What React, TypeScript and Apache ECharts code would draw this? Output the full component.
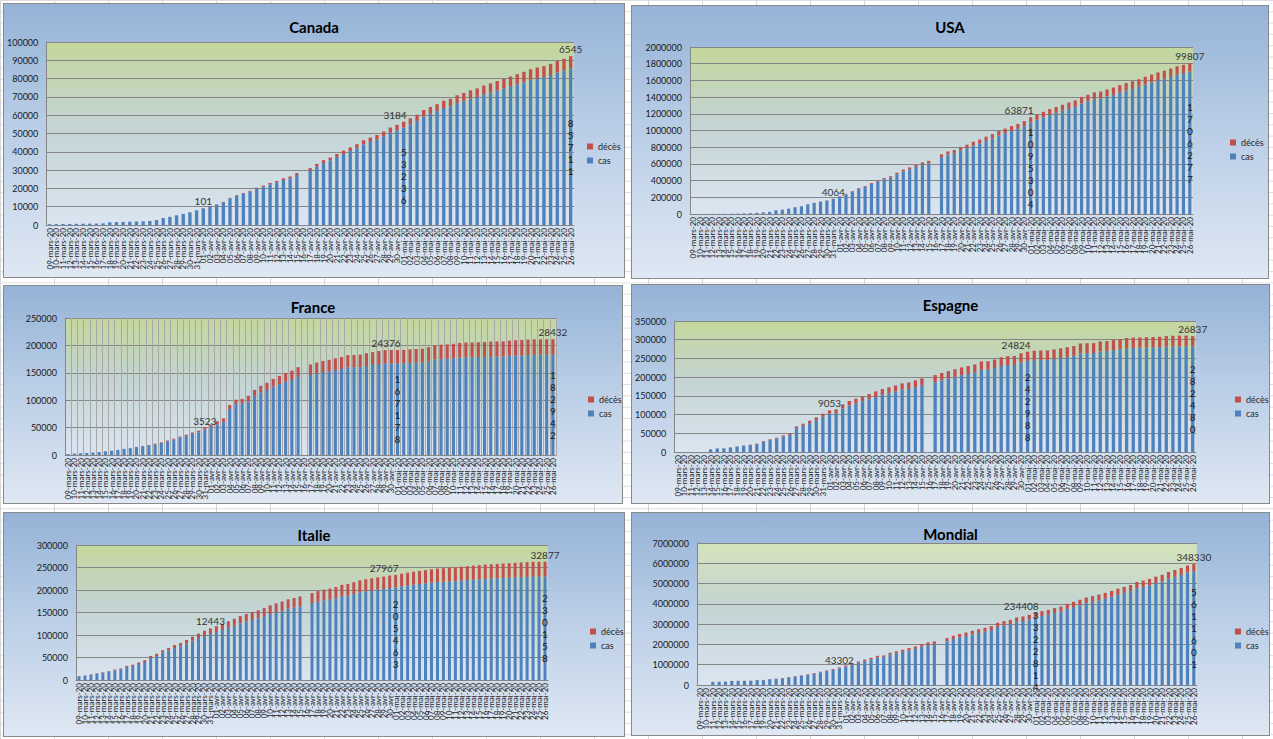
import React, { useEffect, useRef } from "react";
import * as echarts from "echarts";

// dates (one per bar)
const dates = [
  "09-mars-20", "10-mars-20", "11-mars-20", "12-mars-20", "13-mars-20", "14-mars-20", "15-mars-20", "16-mars-20",
  "17-mars-20", "18-mars-20", "19-mars-20", "20-mars-20", "21-mars-20", "22-mars-20", "23-mars-20", "24-mars-20",
  "25-mars-20", "26-mars-20", "27-mars-20", "28-mars-20", "29-mars-20", "30-mars-20", "31-mars-20",
  "01-avr-20", "02-avr-20", "03-avr-20", "04-avr-20", "05-avr-20", "06-avr-20", "07-avr-20", "08-avr-20",
  "09-avr-20", "10-avr-20", "11-avr-20", "12-avr-20", "13-avr-20", "14-avr-20", "15-avr-20", "16-avr-20",
  "17-avr-20", "18-avr-20", "19-avr-20", "20-avr-20", "21-avr-20", "22-avr-20", "23-avr-20", "24-avr-20",
  "25-avr-20", "26-avr-20", "27-avr-20", "28-avr-20", "29-avr-20", "30-avr-20",
  "01-mai-20", "02-mai-20", "03-mai-20", "04-mai-20", "05-mai-20", "06-mai-20", "07-mai-20", "08-mai-20",
  "09-mai-20", "10-mai-20", "11-mai-20", "12-mai-20", "13-mai-20", "14-mai-20", "15-mai-20", "16-mai-20",
  "17-mai-20", "18-mai-20", "19-mai-20", "20-mai-20", "21-mai-20", "22-mai-20", "23-mai-20", "24-mai-20",
  "25-mai-20", "26-mai-20",
];

const canadaCas = [
  450, 500, 550, 600, 650, 700, 750, 800, 900, 1500,
  1600, 1700, 1800, 1900, 2000, 2200, 2700, 3800, 4400, 5300,
  6000, 6900, 8000, 9100, 10200, 11100, 12400, 14500, 16000, 17100,
  18200, 19800, 20900, 22200, 23300, 24600, 25500, 27300, null, 29800,
  32000, 33900, 35300, 37100, 38800, 40400, 42000, 44000, 45300, 46600,
  48400, 50400, 51700, 53236, 55000, 56800, 59300, 60800, 62200, 63900,
  64800, 66600, 67700, 69000, 69900, 71300, 72400, 73500, 74600, 75700,
  76800, 78000, 79300, 80100, 80800, 81900, 83300, 84400, 85711,
];
const canadaDeces = [
  1, 1, 1, 1, 1, 1, 4, 5, 8, 9,
  12, 12, 19, 21, 24, 26, 30, 38, 54, 61,
  64, 80, 89, 101, 150, 200, 260, 330, 380, 430,
  500, 560, 650, 730, 780, 900, 1000, 1100, null, 1300,
  1400, 1500, 1600, 1700, 1900, 2000, 2150, 2300, 2450, 2600,
  2700, 2850, 3000, 3184, 3300, 3400, 3550, 3700, 3850, 4000,
  4150, 4300, 4450, 4600, 4750, 4900, 5050, 5200, 5300, 5450,
  5600, 5700, 5800, 5950, 6050, 6150, 6300, 6450, 6545,
];

const usaCas = [
  600, 900, 1300, 1700, 2300, 2900, 3500, 4600, 6400, 9400,
  14000, 19000, 26000, 44000, 52000, 64000, 80000, 92000, 116000, 132000,
  148000, 160000, 180000, 208000, 236000, 268000, 300000, 324000, 360000, 388000,
  416000, 436000, 476000, 512000, 536000, 564000, 592000, 608000, null, 680000,
  712000, 728000, 760000, 788000, 820000, 844000, 876000, 904000, 940000, 968000,
  996000, 1020000, 1052000, 1095304, 1128000, 1156000, 1188000, 1212000, 1236000, 1260000,
  1284000, 1324000, 1348000, 1376000, 1384000, 1408000, 1428000, 1456000, 1480000, 1500000,
  1524000, 1552000, 1576000, 1600000, 1620000, 1644000, 1672000, 1688000, 1706277,
];
const usaDeces = [
  22, 28, 36, 40, 47, 57, 69, 85, 108, 150,
  200, 244, 307, 417, 557, 706, 942, 1209, 1581, 2026,
  2467, 3170, 4064, 5100, 6100, 7400, 8500, 9600, 10900, 12800,
  14700, 16500, 18600, 20500, 22100, 23600, 25800, 28300, null, 34600,
  37100, 39000, 40600, 42400, 45300, 47600, 49900, 51900, 53800, 54900,
  56300, 58400, 60900, 63871, 65700, 67400, 68900, 70100, 72300, 74800,
  76900, 78800, 80000, 80800, 82400, 84100, 85900, 87500, 88800, 89600,
  90400, 91900, 93400, 94700, 96000, 97100, 97700, 98200, 99807,
];

const franceCas = [
  1800, 2600, 3200, 3700, 4400, 5400, 6600, 7700, 9100, 10900,
  12500, 14400, 16000, 17700, 19800, 22300, 25200, 28100, 31800, 34800,
  38500, 41500, 46400, 51300, 56200, 60500, 83700, 92900, 93500, 97800,
  108000, 114000, 118500, 124600, 129500, 133800, 136900, 142400, null, 146000,
  149000, 151500, 152800, 155200, 157000, 160000, 160000, 160300, 162500, 164400,
  166200, 167400, 167300, 167178, 167300, 168000, 168300, 168500, 171000, 174200,
  175000, 175500, 176500, 178000, 178500, 178600, 178800, 179000, 179500, 179600,
  179700, 181000, 181500, 182000, 182500, 182700, 182900, 183000, 182942,
];
const franceDeces = [
  25, 33, 48, 61, 79, 91, 127, 148, 175, 244,
  372, 450, 562, 674, 860, 1100, 1331, 1696, 1995, 2314,
  2606, 3024, 3523, 4000, 5400, 6500, 7500, 8000, 8900, 10300,
  10900, 12200, 13200, 14400, 14900, 15700, 17100, 17900, null, 19300,
  19700, 20200, 20800, 21300, 21800, 22200, 22600, 22800, 23200, 23300,
  23600, 24100, 24300, 24376, 24600, 24900, 25200, 25500, 25800, 26000,
  26200, 26300, 26400, 26600, 26700, 26900, 27000, 27100, 27400, 27500,
  27500, 27600, 27900, 28000, 28100, 28200, 28300, 28300, 28432,
];

const espagneCas = [
  0, 0, 0, 0, 0, 6900, 9500, 9500, 12000, 14500,
  17000, 18600, 21000, 27700, 31600, 35600, 41100, 45700, 63600, 70000,
  77200, 85300, 94200, 102200, 104000, 116400, 124500, 130100, 135500, 141200,
  147400, 153000, 156900, 161600, 166400, 168500, 173200, 178100, null, 186300,
  191500, 196000, 200600, 205200, 208300, 212300, 219800, 219900, 224100, 229800,
  232500, 232700, 239200, 242988, 245500, 245800, 246000, 248400, 251000, 254100,
  256900, 263700, 264000, 264200, 268800, 269500, 272100, 274300, 277300, 278200,
  278600, 279100, 279500, 280100, 281900, 282000, 282300, 282400, 282480,
];
const espagneDeces = [
  0, 0, 0, 0, 0, 200, 290, 340, 530, 600,
  770, 1000, 1300, 1700, 2200, 2700, 3400, 4100, 4900, 5700,
  6500, 7300, 8200, 9053, 10000, 10900, 11700, 12400, 13100, 13800,
  14600, 15200, 15800, 16400, 17000, 17500, 18100, 18600, null, 19300,
  19500, 20000, 20400, 20800, 21300, 21700, 22200, 22500, 22900, 23200,
  23500, 23800, 24300, 24824, 25100, 25300, 25400, 25600, 25800, 25900,
  26100, 26300, 26500, 26600, 26700, 26700, 26900, 27100, 27300, 27500,
  27600, 27700, 27700, 27800, 27900, 28600, 28700, 28700, 26837,
];

const italieCas = [
  8200, 9700, 11900, 14100, 16300, 18600, 21500, 23800, 29000, 31000,
  35600, 40000, 48900, 53300, 60700, 65200, 71100, 74800, 80700, 87400,
  93300, 98500, 102200, 106700, 111000, 116000, 120700, 126000, 129600, 133300,
  137000, 141500, 146700, 150400, 154000, 158500, 160700, 163700, null, 170400,
  174000, 177000, 178500, 181500, 186000, 187400, 191000, 194800, 197000, 198500,
  200700, 202200, 204400, 205463, 208000, 209600, 211800, 213300, 214800, 216300,
  217800, 218500, 219200, 219800, 221200, 222100, 223100, 223900, 224800, 225400,
  225900, 226700, 227400, 228000, 228700, 229300, 229900, 230000, 230158,
];
const italieDeces = [
  400, 500, 650, 850, 1000, 1300, 1800, 2200, 2500, 3000,
  3400, 4000, 4500, 5000, 5500, 6000, 6700, 7500, 8300, 9000,
  9800, 11000, 12443, 13000, 13900, 14600, 15300, 16000, 17000, 17600,
  18000, 18500, 19300, 19800, 20400, 20800, 21500, 22000, null, 22800,
  23500, 24000, 24700, 25100, 25500, 25900, 26300, 26600, 26900, 27300,
  27400, 27600, 27800, 27967, 28200, 28700, 28900, 29100, 29300, 29700,
  29900, 30000, 30200, 30500, 30700, 30900, 31100, 31400, 31600, 31800,
  31900, 32000, 32200, 32300, 32500, 32600, 32700, 32800, 32877,
];

const mondialCas = [
  0, 0, 150000, 156000, 162000, 198000, 202000, 205000, 208000, 238000,
  240000, 284000, 298000, 330000, 377000, 424000, 454000, 501000, 563000, 625000,
  686000, 748000, 826000, 919000, 996000, 1100000, 1194000, 1270000, 1364000, 1377000,
  1500000, 1564000, 1637000, 1710000, 1782000, 1894000, 1966000, 2009000, null, 2157000,
  2270000, 2354000, 2419000, 2491000, 2565000, 2629000, 2703000, 2867000, 2942000, 2997000,
  3112000, 3156000, 3231000, 3322814, 3401000, 3456000, 3542000, 3618000, 3744000, 3839000,
  3933000, 4037000, 4102000, 4177000, 4253000, 4349000, 4455000, 4540000, 4626000, 4770000,
  4834000, 4910000, 5016000, 5102000, 5237000, 5332000, 5428000, 5545000, 5611601,
];
const mondialDeces = [
  0, 0, 4600, 5000, 5400, 5800, 6400, 7000, 7900, 8800,
  9900, 11300, 13000, 14700, 16500, 19000, 21300, 24000, 27000, 30800,
  34800, 38700, 43302, 48000, 54000, 60000, 66000, 70000, 76000, 83000,
  90000, 96000, 103000, 110000, 118000, 126000, 134000, 141000, null, 153000,
  160000, 166000, 171000, 179000, 185000, 191000, 197000, 203000, 208000, 213000,
  218000, 224000, 229000, 234408, 239000, 244000, 248000, 252000, 256000, 261000,
  267000, 273000, 278000, 283000, 287000, 291000, 295000, 300000, 304000, 310000,
  316000, 320000, 324000, 328000, 333000, 338000, 342000, 345000, 348330,
];

const seriesNames = ["cas", "décès"];

type Panel = {
  title: string;
  cas: (number | null)[];
  deces: (number | null)[];
  yMax: number;
  yStep: number;
  firstLabel: number;
  box: [number, number, number, number];
  grid: [number, number, number, number];
  titleTop: number;
  legend: [number, number];
  vLines?: boolean;
  plotTop?: string;
};

const panels: Panel[] = [
  { title: "Canada", cas: canadaCas, deces: canadaDeces, yMax: 100000, yStep: 10000, firstLabel: 23,
    box: [3, 3, 622, 275], grid: [40, 38, 530, 183], titleTop: 10, legend: [583, 138] },
  { title: "USA", cas: usaCas, deces: usaDeces, yMax: 2000000, yStep: 200000, firstLabel: 22,
    box: [631, 5, 638, 274], grid: [58, 41, 503, 167], titleTop: 8, legend: [598, 132] },
  { title: "France", cas: franceCas, deces: franceDeces, yMax: 250000, yStep: 50000, firstLabel: 22,
    box: [3, 285, 620, 219], grid: [61, 32, 491, 137], titleTop: 8, legend: [584, 109], vLines: true },
  { title: "Espagne", cas: espagneCas, deces: espagneDeces, yMax: 350000, yStep: 50000, firstLabel: 23,
    box: [631, 284, 639, 220], grid: [42, 36, 522, 131], titleTop: 7, legend: [603, 110] },
  { title: "Italie", cas: italieCas, deces: italieDeces, yMax: 300000, yStep: 50000, firstLabel: 22,
    box: [3, 512, 622, 225], grid: [72, 32, 472, 135], titleTop: 9, legend: [586, 114] },
  { title: "Mondial", cas: mondialCas, deces: mondialDeces, yMax: 7000000, yStep: 1000000, firstLabel: 22,
    box: [631, 512, 639, 224], grid: [65, 30, 500, 142], titleTop: 8, legend: [603, 114], plotTop: "#d5e3bb" },
];

const FONT = "Lato, 'Liberation Sans', sans-serif";

const plotFill = (top: string) => ({
  type: "linear", x: 0, y: 0, x2: 0, y2: 1,
  colorStops: [
    { offset: 0, color: top },
    { offset: 0.45, color: "#c3d4d3" },
    { offset: 1, color: "#dbe5f1" },
  ],
});

const buildOption = (p: Panel) => {
  const last = dates.length - 1;
  const casData = p.cas.map((v, i) =>
    i === 53 || i === last ? { value: v, label: { show: true } } : v
  );
  const decesData = p.deces.map((v, i) => {
    if (i === 53) return { value: v, label: { show: true, align: "right", offset: [3, 0] } };
    if (i === p.firstLabel || i === last) return { value: v, label: { show: true } };
    return v;
  });
  return {
    animation: false,
    textStyle: { fontFamily: FONT },
    title: {
      text: p.title, left: "center", top: p.titleTop,
      textStyle: { fontSize: 15, fontWeight: "bold", color: "#000", fontFamily: FONT },
    },
    legend: {
      orient: "vertical", left: p.legend[0], top: p.legend[1], padding: 0,
      itemWidth: 6, itemHeight: 6, itemGap: 5, icon: "rect",
      data: ["décès", "cas"],
      textStyle: { fontSize: 9, color: "#262626", fontFamily: FONT },
    },
    grid: {
      left: p.grid[0], top: p.grid[1], width: p.grid[2], height: p.grid[3],
      show: true, borderWidth: 0, backgroundColor: plotFill(p.plotTop || "#c4d79b"),
    },
    xAxis: {
      type: "category", data: dates,
      axisTick: { show: false },
      axisLine: { lineStyle: { color: "#868686" } },
      axisLabel: { interval: 0, rotate: 90, fontSize: 8, color: "#222", margin: 3, fontFamily: FONT },
      splitLine: { show: !!p.vLines, interval: 0, lineStyle: { color: "#a8a8a8", width: 1 } },
    },
    yAxis: {
      type: "value", min: 0, max: p.yMax, interval: p.yStep,
      axisLine: { show: true, lineStyle: { color: "#868686" } },
      axisTick: { show: false },
      axisLabel: { fontSize: 9, color: "#1a1a1a", margin: 8, fontFamily: FONT, formatter: (v: number) => String(v) },
      splitLine: { lineStyle: { color: "#868686", width: 1 } },
    },
    series: [
      {
        name: seriesNames[0], type: "bar", stack: "total", barWidth: "50%",
        itemStyle: { color: "#4f81bd" },
        label: {
          show: false, position: "inside", fontSize: 10, lineHeight: 12, color: "#1a1a1a",
          textBorderWidth: 0, fontFamily: FONT,
          formatter: (d: any) => String(d.value).split("").join("\n"),
        },
        data: casData,
      },
      {
        name: seriesNames[1], type: "bar", stack: "total", barWidth: "50%",
        itemStyle: { color: "#c0504d" },
        label: {
          show: false, position: "top", distance: 2, fontSize: 10, color: "#333",
          fontFamily: FONT, formatter: "{c}",
        },
        data: decesData,
      },
    ],
  };
};

const ChartBox: React.FC<{ panel: Panel }> = ({ panel }) => {
  const chartRef = useRef<HTMLDivElement>(null);

  useEffect(() => {
    if (!chartRef.current) return;
    const chart = echarts.init(chartRef.current, undefined, { renderer: "svg" });
    chart.setOption(buildOption(panel) as any);
    return () => chart.dispose();
  }, [panel]);

  const [x, y, w, h] = panel.box;
  return (
    <div
      style={{
        position: "absolute", left: x, top: y, width: w, height: h,
        boxSizing: "border-box", border: "1px solid #8a8a8a",
        background: "linear-gradient(180deg, #95b3d7 0%, #b9cde6 45%, #dfe8f3 100%)",
      }}
    >
      <div ref={chartRef} style={{ width: w - 2, height: h - 2 }} />
    </div>
  );
};

const App: React.FC = () => {
  useEffect(() => {
    document.body.style.margin = "0";
  }, []);

  return (
    <div
      style={{
        position: "relative", width: 1273, height: 739, overflow: "hidden",
        backgroundColor: "#ffffff",
        backgroundImage:
          "linear-gradient(to right, #d6d6d6 1px, transparent 1px), linear-gradient(to bottom, #dcdcdc 1px, transparent 1px)",
        backgroundSize: "54px 11.3px",
      }}
    >
      {panels.map((p) => (
        <ChartBox key={p.title} panel={p} />
      ))}
    </div>
  );
};

export default App;
